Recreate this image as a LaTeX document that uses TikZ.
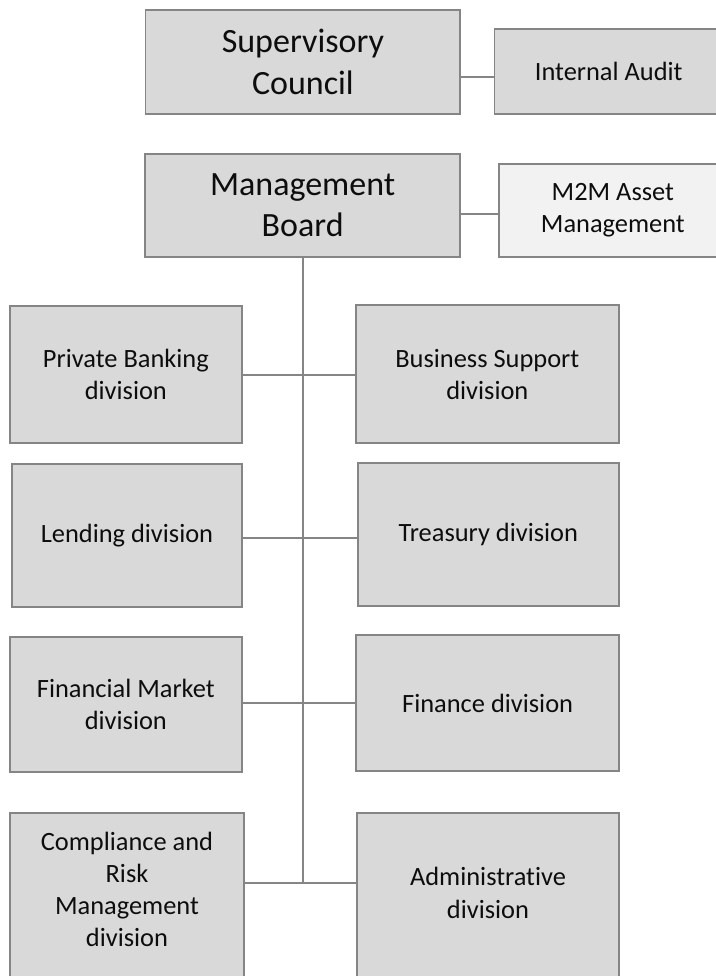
\documentclass[tikz,border=0pt]{standalone}
\usepackage{fontspec}
\setmainfont{Carlito}[Ligatures=NoCommon]
\definecolor{boxfill}{HTML}{D9D9D9}
\definecolor{lightfill}{HTML}{F2F2F2}
\definecolor{edgegray}{HTML}{858585}
\definecolor{txt}{HTML}{0D0D0D}
\newcommand{\bigtxt}{\fontsize{34}{41.3}\selectfont}
\newcommand{\smtxt}{\fontsize{26.4}{31.8}\selectfont}
\newcommand{\crmtxt}{\fontsize{26.4}{32.2}\selectfont}
\begin{document}
\begin{tikzpicture}[x=1pt,y=-1pt,
  orgbox/.style={draw=edgegray, line width=1.8pt, fill=boxfill, inner sep=0pt, outer sep=0pt, align=center, font=\smtxt, text=txt},
  lightbox/.style={orgbox, fill=lightfill},
  bigbox/.style={orgbox, font=\bigtxt},
  link/.style={draw=edgegray, line width=2pt},
  lbl/.style={align=center, font=\crmtxt, inner sep=0pt, text=txt}]
\useasboundingbox (0,0) rectangle (715,976);

% top level
\node[bigbox, minimum width=314.8pt, minimum height=104pt] (sc) at (302.9,62) {Supervisory\\Council};
\node[orgbox, minimum width=228.5pt, minimum height=84.7pt] (ia) at (608.75,71.35) {Internal Audit};
\node[bigbox, minimum width=315.3pt, minimum height=103pt] (mb) at (302.65,205.5) {Management\\Board};
\node[lightbox, minimum width=228.3pt, minimum height=93pt] (m2m) at (612.85,210.5) {M2M Asset\\Management};

% divisions
\node[orgbox, minimum width=231.7pt, minimum height=136.7pt] (pb) at (125.85,374.35) {Private Banking\\division};
\node[orgbox, minimum width=262.7pt, minimum height=138pt] (bs) at (487.35,374.3) {Business Support\\division};
\node[orgbox, minimum width=229.4pt, minimum height=142.4pt] (ld) at (127,535.5) {Lending division};
\node[orgbox, minimum width=260.7pt, minimum height=142.4pt] (tr) at (488.35,534.5) {Treasury division};
\node[orgbox, minimum width=231.7pt, minimum height=135pt] (fm) at (125.85,704.2) {Financial Market\\division};
\node[orgbox, minimum width=263.3pt, minimum height=136pt] (fi) at (487.65,703) {Finance division};
\node[orgbox, minimum width=234pt, minimum height=190pt, anchor=north] (crm) at (127,813.3) {};
\node[lbl] (crmtext) at (127,889.5) {Compliance and\\Risk\\Management\\division};
\node[orgbox, minimum width=262.6pt, minimum height=190pt, anchor=north] (ad) at (488,813.3) {};
\node[lbl] (adtext) at (488,893) {Administrative\\division};

% connectors
\draw[link] (sc.east |- 0,76.7) -- (ia.west |- 0,76.7);
\draw[link] (mb.east |- 0,214) -- (m2m.west |- 0,214);
\coordinate (trunkend) at (mb.south |- 0,882.5);
\draw[link] (mb.south) -- (trunkend);
\draw[link] (pb.east |- 0,375) -- (bs.west |- 0,375);
\draw[link] (ld.east |- 0,537.7) -- (tr.west |- 0,537.7);
\draw[link] (fm.east |- 0,703.3) -- (fi.west |- 0,703.3);
\draw[link] (crm.east |- 0,882.5) -- (ad.west |- 0,882.5);
\end{tikzpicture}
\end{document}
